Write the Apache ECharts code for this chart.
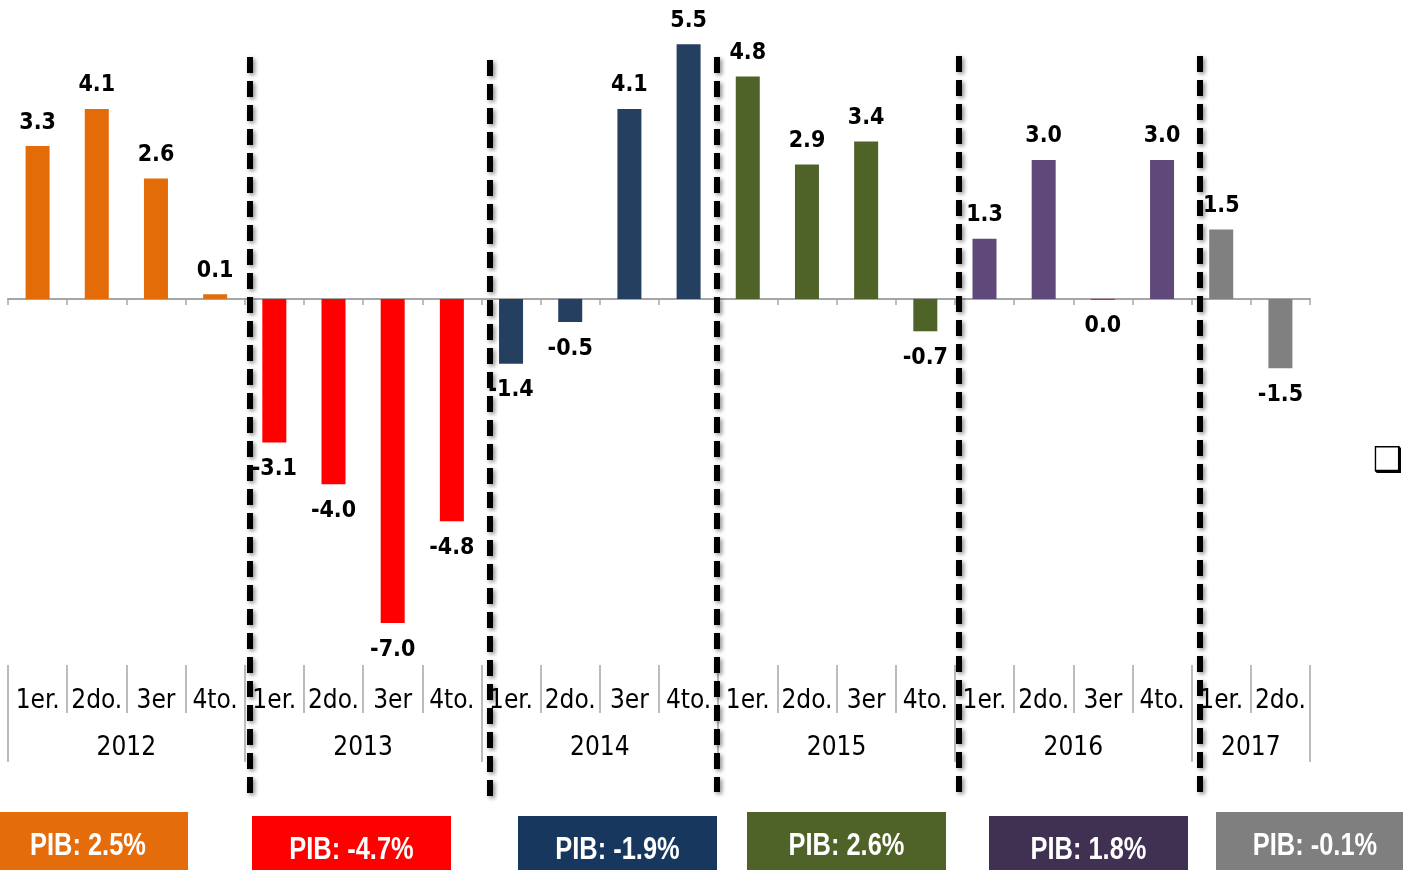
<!DOCTYPE html>
<html>
<head>
<meta charset="utf-8">
<script src="https://cdn.jsdelivr.net/npm/echarts@6/dist/echarts.min.js"></script>
<style>
html,body{margin:0;padding:0;background:#fff;}
#c{width:1403px;height:870px;}
</style>
</head>
<body>
<div id="c"></div>
<script>
// ---- data ----
const quarters = ['1er.','2do.','3er','4to.','1er.','2do.','3er','4to.','1er.','2do.','3er','4to.','1er.','2do.','3er','4to.','1er.','2do.','3er','4to.','1er.','2do.'];
const values = [3.3, 4.1, 2.6, 0.1, -3.1, -4.0, -7.0, -4.8, -1.4, -0.5, 4.1, 5.5, 4.8, 2.9, 3.4, -0.7, 1.3, 3.0, -0.02, 3.0, 1.5, -1.5];
const years = ['2012','2013','2014','2015','2016','2017'];
const quartersPerYear = [4, 4, 4, 4, 4, 2];
const pibLabels = ['PIB: 2.5%','PIB: -4.7%','PIB: -1.9%','PIB: 2.6%','PIB: 1.8%','PIB: -0.1%'];

// ---- styles ----
const FONT = "'Liberation Sans Narrow','Arial Narrow','DejaVu Sans Condensed',sans-serif";
const yearColors = ['#E36C09','#FF0000','#243F60','#4F6228','#5F497A','#808080'];
const boxColors  = ['#E46C0A','#FF0000','#17375E','#4F6228','#403152','#7F7F7F'];
const zeroColor = '#FF0000';

// year index of each quarter
const yearOf = [];
quartersPerYear.forEach((n, yi) => { for (let i = 0; i < n; i++) yearOf.push(yi); });

// year axis: points at quarter boundaries (boundaryGap false)
const yearAxisData = new Array(values.length + 1).fill('');
const yearBoundaries = new Set([0]);
let start = 0;
quartersPerYear.forEach((n, yi) => {
  yearAxisData[start + n / 2] = years[yi];
  start += n;
  yearBoundaries.add(start);
});

const barData = values.map(v => ({
  value: v,
  label: { position: v < 0 ? 'bottom' : 'top', distance: v < 0 ? 15 : 12 }
}));

const fmt = v => { const r = Math.round(v * 10) / 10; return (r === 0 ? 0 : r).toFixed(1); };

// annotation boxes
const boxes = [
  {x: 0,    y: 812, w: 188, h: 58, tx: 88},
  {x: 252,  y: 816, w: 199, h: 54},
  {x: 518,  y: 816, w: 199, h: 54},
  {x: 747,  y: 812, w: 199, h: 58},
  {x: 989,  y: 816, w: 199, h: 54},
  {x: 1216, y: 812, w: 187, h: 58, tx: 1315}
];
const dividers = [
  {x: 250, y1: 57, y2: 794},
  {x: 490, y1: 60, y2: 798},
  {x: 717, y1: 57, y2: 792},
  {x: 959, y1: 56, y2: 795},
  {x: 1200, y1: 56, y2: 795}
];

const graphics = [];
boxes.forEach((b, i) => {
  graphics.push({
    type: 'rect', shape: {x: b.x, y: b.y, width: b.w, height: b.h},
    style: {fill: boxColors[i]}, z: 10
  });
  graphics.push({
    type: 'text', x: (b.tx !== undefined ? b.tx : b.x + b.w / 2), y: b.y + 34,
    scaleX: 0.82,
    style: {text: pibLabels[i], fill: '#fff', font: "bold 31px 'Liberation Sans', Arial, sans-serif", textAlign: 'center', textVerticalAlign: 'middle'},
    z: 11
  });
});
dividers.forEach(d => {
  graphics.push({
    type: 'line', shape: {x1: d.x, y1: d.y1, x2: d.x, y2: d.y2},
    style: {stroke: '#000', lineWidth: 6, lineDash: [16, 8], shadowBlur: 4, shadowColor: 'rgba(0,0,0,0.45)', shadowOffsetX: 2, shadowOffsetY: 2},
    z: 20
  });
});
graphics.push({
  type: 'text', x: 1388, y: 462,
  style: {text: '\u2751', fill: '#000', font: "34px 'DejaVu Sans'", textAlign: 'center', textVerticalAlign: 'middle'},
  z: 10
});

const chart = echarts.init(document.getElementById('c'), null, {renderer: 'canvas'});
chart.setOption({
  animation: false,
  backgroundColor: '#fff',
  grid: {left: 8, right: 93, top: 21, bottom: 108, containLabel: false},
  yAxis: {
    type: 'value', min: -10, max: 6, show: false,
    splitLine: {show: false}
  },
  xAxis: [
    {
      type: 'category', data: quarters, position: 'bottom',
      axisLine: {onZero: true, lineStyle: {color: '#A6A6A6', width: 2}},
      axisTick: {show: true, length: 6, lineStyle: {color: '#A6A6A6', width: 1.5}},
      axisLabel: {show: false}, splitLine: {show: false}
    },
    {
      type: 'category', data: quarters, position: 'bottom', offset: -97,
      axisLine: {show: false, onZero: false},
      axisTick: {show: true, interval: 0, length: 48, lineStyle: {color: '#A6A6A6', width: 1.5}},
      axisLabel: {interval: 0, fontSize: 26, fontFamily: FONT, color: '#000', margin: 23},
      splitLine: {show: false}
    },
    {
      type: 'category', data: yearAxisData, boundaryGap: false, position: 'bottom', offset: -97,
      axisLine: {show: false, onZero: false},
      axisTick: {show: true, interval: (idx) => yearBoundaries.has(idx), length: 97, lineStyle: {color: '#A6A6A6', width: 1.5}},
      axisLabel: {interval: 0, fontSize: 26, fontFamily: FONT, color: '#000', margin: 70},
      splitLine: {show: false}
    }
  ],
  series: [{
    type: 'bar', xAxisIndex: 0, yAxisIndex: 0,
    data: barData,
    barWidth: 24,
    itemStyle: {
      color: p => (Math.abs(values[p.dataIndex]) < 0.05 ? zeroColor : yearColors[yearOf[p.dataIndex]])
    },
    label: {
      show: true,
      fontSize: 23, fontWeight: 'bold', fontFamily: FONT, color: '#000',
      formatter: p => fmt(values[p.dataIndex])
    }
  }],
  graphic: graphics
});
</script>
</body>
</html>
